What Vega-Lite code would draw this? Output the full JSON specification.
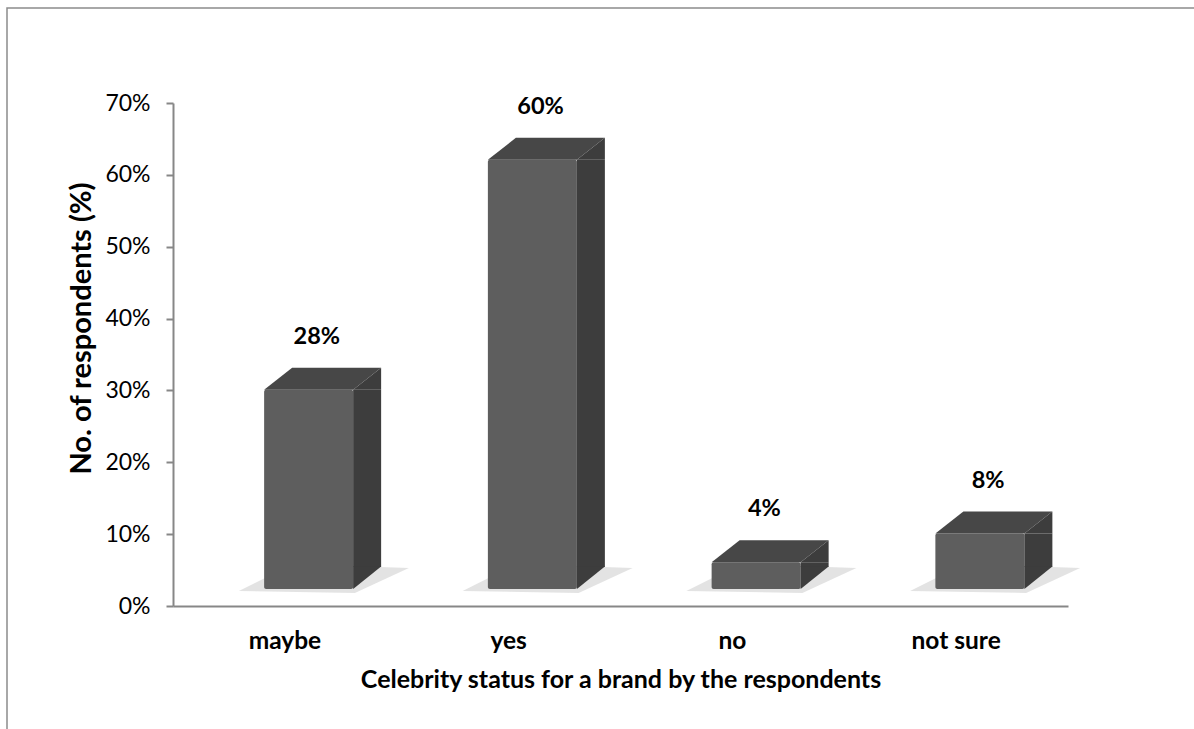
{
  "$schema": "https://vega.github.io/schema/vega-lite/v6.json",
  "autosize": "none",
  "width": 1197,
  "height": 731,
  "padding": {"left": 7, "top": 8, "right": -10, "bottom": -10},
  "background": "white",
  "config": {
    "view": {"stroke": "#8c8c8c", "strokeWidth": 1.5},
    "font": "Lato"
  },
  "data": {
    "values": [
      {"status": "maybe", "pct": 0.28},
      {"status": "yes", "pct": 0.60},
      {"status": "no", "pct": 0.04},
      {"status": "not sure", "pct": 0.08}
    ]
  },
  "encoding": {
    "x": {
      "field": "status",
      "type": "nominal",
      "sort": null,
      "scale": {"range": [166, 1061], "paddingInner": 0, "paddingOuter": 0},
      "axis": {
        "title": "Celebrity status for a brand by the respondents",
        "offset": -133,
        "domainColor": "#878787",
        "domainWidth": 2,
        "ticks": false,
        "labelAngle": 0,
        "labelFont": "Lato",
        "labelFontSize": 24.5,
        "labelFontWeight": "bold",
        "labelColor": "#000000",
        "labelPadding": 23,
        "titleFont": "Lato",
        "titleFontSize": 25,
        "titleFontWeight": "bold",
        "titleColor": "#000000",
        "titlePadding": 15
      }
    }
  },
  "layer": [
    {
      "mark": {
        "type": "point",
        "filled": true,
        "opacity": 0.4,
        "size": 4,
        "strokeWidth": 0,
        "color": "#b8b8b8",
        "shape": "M-46,-15 L70,-13 L124,-38 L8,-42 Z"
      },
      "encoding": {"y": {"datum": 0}}
    },
    {
      "mark": {
        "type": "bar",
        "color": "#5e5e5e",
        "width": 89,
        "xOffset": 23.75,
        "yOffset": -15,
        "y2Offset": -17,
        "cornerRadius": 2
      },
      "encoding": {
        "y": {
          "field": "pct",
          "type": "quantitative",
          "scale": {"domain": [0, 0.7], "range": [598, 95], "nice": false},
          "axis": {
            "title": "No. of respondents (%)",
            "offset": -166,
            "values": [0, 0.1, 0.2, 0.3, 0.4, 0.5, 0.6, 0.7],
            "format": ".0%",
            "grid": false,
            "domainColor": "#878787",
            "domainWidth": 2,
            "tickColor": "#878787",
            "tickWidth": 2,
            "tickSize": 7,
            "labelFont": "Lato",
            "labelFontSize": 23,
            "labelColor": "#000000",
            "labelPadding": 16,
            "titleFont": "Lato",
            "titleFontSize": 29,
            "titleFontWeight": "bold",
            "titleColor": "#000000",
            "titlePadding": 8,
            "titleY": 320
          }
        },
        "y2": {"datum": 0}
      }
    },
    {
      "mark": {
        "type": "bar",
        "color": "#3d3d3d",
        "width": 28,
        "xOffset": 82.25,
        "yOffset": -15,
        "y2Offset": -39
      },
      "encoding": {
        "y": {"field": "pct", "type": "quantitative"},
        "y2": {"datum": 0}
      }
    },
    {
      "mark": {
        "type": "point",
        "filled": true,
        "opacity": 1,
        "size": 4,
        "strokeWidth": 0,
        "color": "#474747",
        "shape": "M-20.75,-15 L68.25,-15 L96.25,-37 L7.25,-37 Z"
      },
      "encoding": {"y": {"field": "pct", "type": "quantitative"}}
    },
    {
      "mark": {
        "type": "point",
        "filled": true,
        "opacity": 1,
        "size": 4,
        "strokeWidth": 0,
        "color": "#3d3d3d",
        "shape": "M68.25,-15 L96.25,-37 L96.25,-15 Z"
      },
      "encoding": {"y": {"field": "pct", "type": "quantitative"}}
    },
    {
      "mark": {
        "type": "point",
        "filled": true,
        "opacity": 1,
        "size": 4,
        "strokeWidth": 0,
        "color": "#3d3d3d",
        "shape": "M68.25,-17 L68.25,-39.5 L96.25,-39.5 Z"
      },
      "encoding": {"y": {"datum": 0}}
    },
    {
      "mark": {
        "type": "text",
        "font": "Lato",
        "fontSize": 23.5,
        "fontWeight": "bold",
        "color": "#000000",
        "xOffset": 32,
        "yOffset": -68,
        "baseline": "middle",
        "align": "center"
      },
      "encoding": {
        "y": {"field": "pct", "type": "quantitative"},
        "text": {"field": "pct", "type": "quantitative", "format": ".0%"}
      }
    }
  ]
}
